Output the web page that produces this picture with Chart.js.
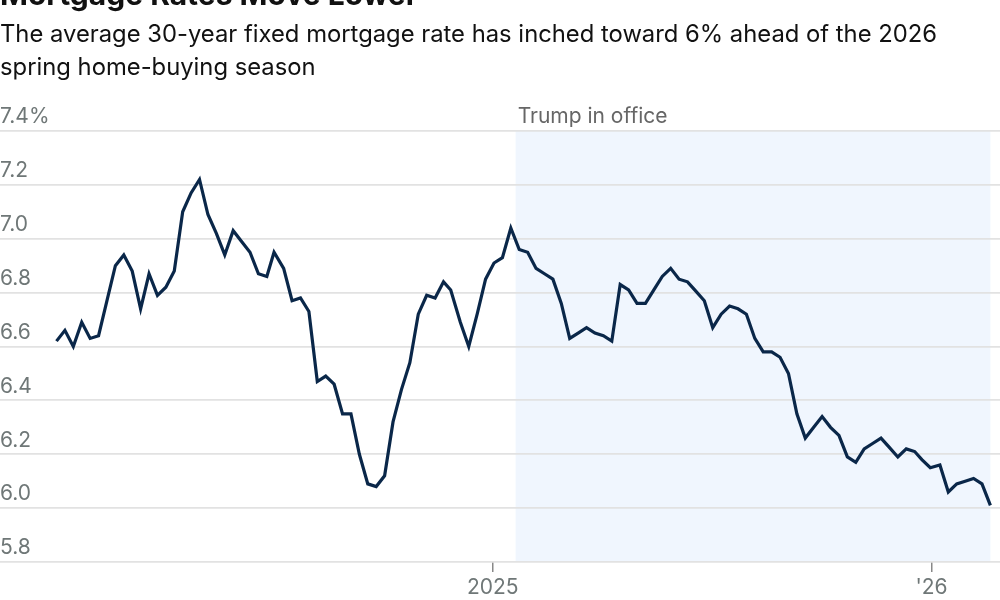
<!DOCTYPE html>
<html>
<head>
<meta charset="utf-8">
<script src="https://cdn.jsdelivr.net/npm/chart.js@4"></script>
<style>
    body { margin: 0; background: #fff; font-family: Inter, 'Noto Sans', sans-serif; }
    #wrap { position: relative; width: 1000px; height: 600px; overflow: hidden; }
    #title { position: absolute; left: 0; top: -21px; font-size: 30px; line-height: 30px; font-weight: 700; color: #111; white-space: nowrap; }
    #subtitle { position: absolute; left: 0; top: 17px; font-size: 23.8px; line-height: 33px; color: #111; width: 975px; }
    #chartBox { position: absolute; left: 0; top: 0; width: 1000px; height: 600px; }
</style>
</head>
<body>
<div id="wrap">
    <div id="chartBox"><canvas id="rateChart"></canvas></div>
    <div id="title">Mortgage Rates Move Lower</div>
    <div id="subtitle">The average 30-year fixed mortgage rate has inched toward 6% ahead of the 2026 spring home-buying season</div>
</div>
<script>
// Weekly 30-year fixed rate, Jan 2024 - Feb 2026
const weekDates = [
    '2024-01-04', '2024-01-11', '2024-01-18', '2024-01-25', '2024-02-01', '2024-02-08', '2024-02-15', '2024-02-22', '2024-02-29',
    '2024-03-07', '2024-03-14', '2024-03-21', '2024-03-28', '2024-04-04', '2024-04-11', '2024-04-18', '2024-04-25',
    '2024-05-02', '2024-05-09', '2024-05-16', '2024-05-23', '2024-05-30', '2024-06-06', '2024-06-13', '2024-06-20', '2024-06-27',
    '2024-07-03', '2024-07-11', '2024-07-18', '2024-07-25', '2024-08-01', '2024-08-08', '2024-08-15', '2024-08-22', '2024-08-29',
    '2024-09-05', '2024-09-12', '2024-09-19', '2024-09-26', '2024-10-03', '2024-10-10', '2024-10-17', '2024-10-24', '2024-10-31',
    '2024-11-07', '2024-11-14', '2024-11-21', '2024-11-27', '2024-12-05', '2024-12-12', '2024-12-19', '2024-12-26',
    '2025-01-02', '2025-01-09', '2025-01-16', '2025-01-23', '2025-01-30', '2025-02-06', '2025-02-13', '2025-02-20', '2025-02-27',
    '2025-03-06', '2025-03-13', '2025-03-20', '2025-03-27', '2025-04-03', '2025-04-10', '2025-04-17', '2025-04-24',
    '2025-05-01', '2025-05-08', '2025-05-15', '2025-05-22', '2025-05-29', '2025-06-05', '2025-06-12', '2025-06-18', '2025-06-26',
    '2025-07-03', '2025-07-10', '2025-07-17', '2025-07-24', '2025-07-31', '2025-08-07', '2025-08-14', '2025-08-21', '2025-08-28',
    '2025-09-04', '2025-09-11', '2025-09-18', '2025-09-25', '2025-10-02', '2025-10-09', '2025-10-16', '2025-10-23', '2025-10-30',
    '2025-11-06', '2025-11-13', '2025-11-20', '2025-11-26', '2025-12-04', '2025-12-11', '2025-12-18', '2025-12-24', '2025-12-31',
    '2026-01-08', '2026-01-15', '2026-01-22', '2026-01-29', '2026-02-05', '2026-02-12', '2026-02-19'
];
const rateValues = [
    6.62, 6.66, 6.60, 6.69, 6.63, 6.64, 6.77, 6.90, 6.94,
    6.88, 6.74, 6.87, 6.79, 6.82, 6.88, 7.10, 7.17,
    7.22, 7.09, 7.02, 6.94, 7.03, 6.99, 6.95, 6.87, 6.86,
    6.95, 6.89, 6.77, 6.78, 6.73, 6.47, 6.49, 6.46, 6.35,
    6.35, 6.20, 6.09, 6.08, 6.12, 6.32, 6.44, 6.54, 6.72,
    6.79, 6.78, 6.84, 6.81, 6.69, 6.60, 6.72, 6.85,
    6.91, 6.93, 7.04, 6.96, 6.95, 6.89, 6.87, 6.85, 6.76,
    6.63, 6.65, 6.67, 6.65, 6.64, 6.62, 6.83, 6.81,
    6.76, 6.76, 6.81, 6.86, 6.89, 6.85, 6.84, 6.81, 6.77,
    6.67, 6.72, 6.75, 6.74, 6.72, 6.63, 6.58, 6.58, 6.56,
    6.50, 6.35, 6.26, 6.30, 6.34, 6.30, 6.27, 6.19, 6.17,
    6.22, 6.24, 6.26, 6.23, 6.19, 6.22, 6.21, 6.18, 6.15,
    6.16, 6.06, 6.09, 6.10, 6.11, 6.09, 6.01
];
const xTickDates = ['2025-01-01', '2026-01-01'];
const xTickLabels = ['2025', "'26"];
const yTickValues = [5.8, 6.0, 6.2, 6.4, 6.6, 6.8, 7.0, 7.2, 7.4];
const shadeStart = '2025-01-20';
const shadeLabel = 'Trump in office';

// date string -> day number
function toDay(s) {
    const p = s.split('-').map(Number);
    return Date.UTC(p[0], p[1] - 1, p[2]) / 86400000;
}

const grayText = '#6f7777';
const points = weekDates.map((d, i) => ({ x: toDay(d), y: rateValues[i] }));

const shadePlugin = {
    id: 'shade',
    beforeDraw(chart) {
        const { ctx, chartArea, scales } = chart;
        const x0 = scales.x.getPixelForValue(toDay(shadeStart));
        const x1 = scales.x.getPixelForValue(toDay(weekDates[weekDates.length - 1]));
        ctx.save();
        ctx.fillStyle = '#f0f6fe';
        ctx.fillRect(x0, chartArea.top, x1 - x0, chartArea.bottom - chartArea.top);
        ctx.restore();
    },
    afterDraw(chart) {
        const { ctx, scales } = chart;
        ctx.save();
        ctx.font = '21px Inter, "Noto Sans", sans-serif';
        ctx.fillStyle = grayText;
        ctx.textBaseline = 'middle';
        ctx.textAlign = 'left';
        const top = Math.max(...yTickValues);
        scales.y.ticks.forEach(t => {
            const label = t.value === top ? t.value.toFixed(1) + '%' : t.value.toFixed(1);
            ctx.fillText(label, 0, scales.y.getPixelForValue(t.value) - 14);
        });
        ctx.fillStyle = '#666';
        const sx = scales.x.getPixelForValue(toDay(shadeStart));
        ctx.fillText(shadeLabel, sx + 2, scales.y.getPixelForValue(top) - 14);
        ctx.restore();
    }
};

const ctx = document.getElementById('rateChart').getContext('2d');
new Chart(ctx, {
    type: 'line',
    data: {
        datasets: [{
            data: points,
            borderColor: '#0a2749',
            borderWidth: 3.2,
            pointRadius: 0,
            tension: 0,
            fill: false
        }]
    },
    options: {
        responsive: true,
        maintainAspectRatio: false,
        animation: false,
        layout: { padding: { top: 131, left: 0, right: 0, bottom: 0 } },
        plugins: { legend: { display: false }, tooltip: { enabled: false } },
        scales: {
            x: {
                type: 'linear',
                min: toDay('2023-11-18'),
                max: toDay('2026-02-27'),
                afterBuildTicks(scale) {
                    scale.ticks = xTickDates.map(d => ({ value: toDay(d) }));
                },
                afterFit(scale) { scale.height = 38; },
                ticks: {
                    autoSkip: false,
                    maxRotation: 0,
                    padding: 3,
                    color: grayText,
                    font: { family: 'Inter, "Noto Sans", sans-serif', size: 21 },
                    callback: (v, i) => xTickLabels[i]
                },
                grid: { drawOnChartArea: false, drawTicks: true, tickLength: 10, color: '#888', lineWidth: 1.5 },
                border: { display: false }
            },
            y: {
                min: 5.8,
                max: 7.4,
                afterBuildTicks(scale) {
                    scale.ticks = yTickValues.map(v => ({ value: v }));
                },
                afterFit(scale) { scale.width = 0; },
                ticks: { display: false },
                grid: { color: '#e2e2e2', lineWidth: 1.8, drawTicks: false },
                border: { display: false }
            }
        }
    },
    plugins: [shadePlugin]
});
</script>
</body>
</html>
